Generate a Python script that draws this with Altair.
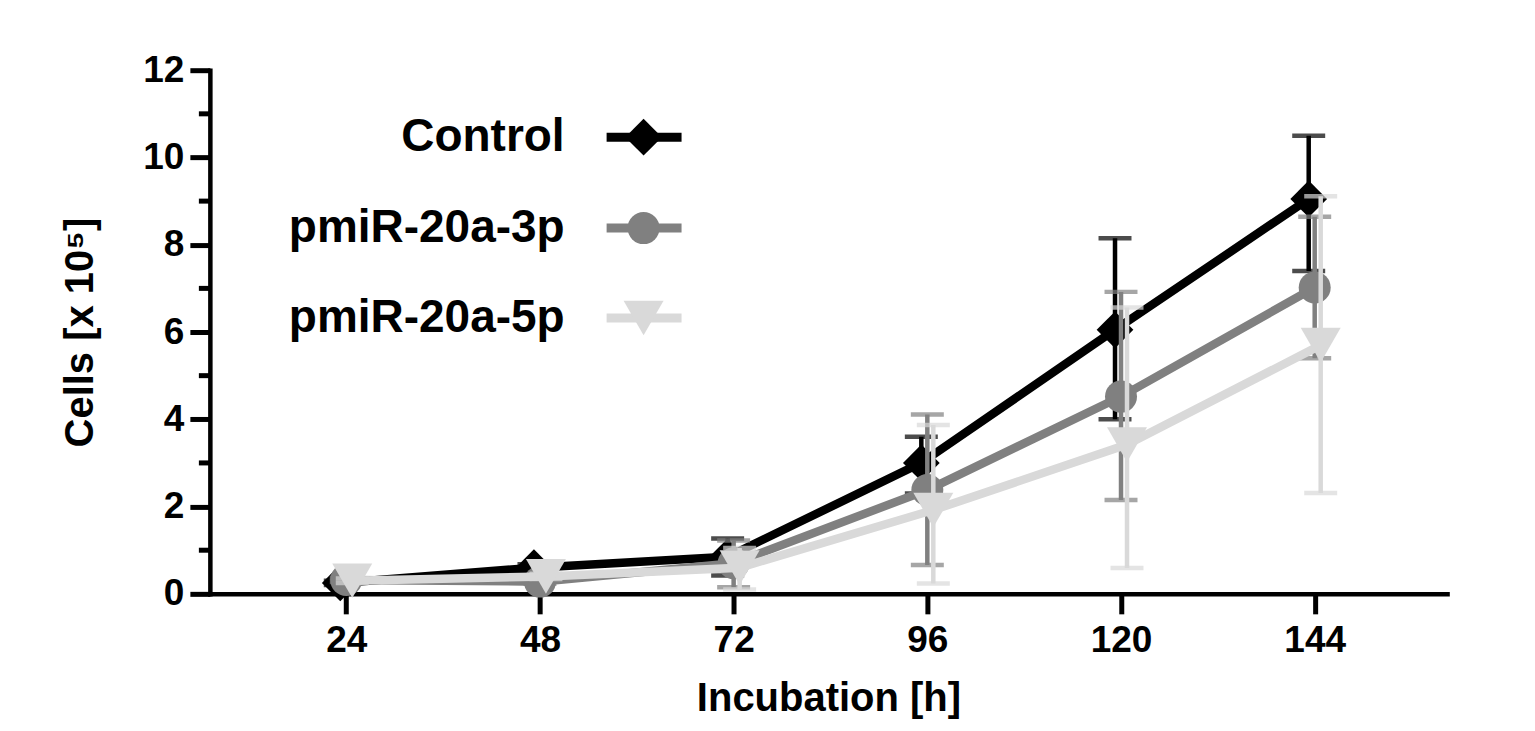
import altair as alt
import pandas as pd

hours = [24, 48, 72, 96, 120, 144]
series = ["Control", "pmiR-20a-3p", "pmiR-20a-5p"]

control_mean = [0.25, 0.60, 0.85, 3.00, 6.05, 9.05]
control_lo = [0.20, 0.52, 0.42, 2.30, 4.00, 7.40]
control_hi = [0.30, 0.68, 1.27, 3.60, 8.15, 10.50]

p3_mean = [0.32, 0.28, 0.70, 2.38, 4.52, 7.02]
p3_lo = [0.27, 0.23, 0.15, 0.66, 2.15, 5.40]
p3_hi = [0.37, 0.33, 1.22, 4.11, 6.92, 8.64]

p5_mean = [0.30, 0.40, 0.60, 1.92, 3.42, 5.70]
p5_lo = [0.25, 0.34, 0.10, 0.24, 0.59, 2.31]
p5_hi = [0.35, 0.46, 1.05, 3.87, 6.56, 9.11]

minor_ticks = [1, 3, 5, 7, 9, 11]
y_ticks = [0, 2, 4, 6, 8, 10, 12]

colors = ["#000000", "#808080", "#d9d9d9"]
shapes = ["diamond", "circle", "triangle-down"]
sizes = [1350, 1024, 1600]
offsets = [-6, 0, 6]

FONT = "Liberation Sans"
W, H = 1238, 524

means = [control_mean, p3_mean, p5_mean]
los = [control_lo, p3_lo, p5_lo]
his = [control_hi, p3_hi, p5_hi]

xscale = alt.Scale(domain=[7.1, 160.4], nice=False, zero=False)
yscale = alt.Scale(domain=[0, 12], nice=False)

layers = []
first = pd.DataFrame({"h": hours, "m": control_mean})
axis_layer = alt.Chart(first).mark_point(opacity=0).encode(
    x=alt.X("h:Q", scale=xscale,
            axis=alt.Axis(values=hours, title="Incubation [h]", grid=False,
                          labelPadding=9, titlePadding=20, format="d")),
    y=alt.Y("m:Q", scale=yscale,
            axis=alt.Axis(values=y_ticks, title="Cells [x 10⁵]", grid=False,
                          labelPadding=6, titlePadding=42, format="d")),
)
layers.append(axis_layer)

minor = alt.Chart(pd.DataFrame({"v": minor_ticks})).mark_rule(
    color="black", strokeWidth=5, clip=False
).encode(
    y=alt.Y("v:Q", scale=yscale),
    x=alt.value(-11), x2=alt.value(0),
)
layers.append(minor)

for i, name in enumerate(series):
    df = pd.DataFrame({"h": hours, "m": means[i], "lo": los[i], "hi": his[i]})
    base = alt.Chart(df)
    c = colors[i]
    bar = base.mark_rule(color=c, strokeWidth=4.5, xOffset=offsets[i]).encode(
        x=alt.X("h:Q", scale=xscale),
        y=alt.Y("lo:Q", scale=yscale), y2="hi:Q")
    cap_lo = base.mark_tick(color=c, orient="horizontal", size=33, thickness=4.5,
                            xOffset=offsets[i]).encode(
        x=alt.X("h:Q", scale=xscale), y=alt.Y("lo:Q", scale=yscale))
    cap_hi = base.mark_tick(color=c, orient="horizontal", size=33, thickness=4.5,
                            xOffset=offsets[i]).encode(
        x=alt.X("h:Q", scale=xscale), y=alt.Y("hi:Q", scale=yscale))
    line = base.mark_line(color=c, strokeWidth=8.5, xOffset=offsets[i]).encode(
        x=alt.X("h:Q", scale=xscale), y=alt.Y("m:Q", scale=yscale))
    pts = base.mark_point(color=c, fill=c, filled=True, opacity=1, shape=shapes[i],
                          size=sizes[i], xOffset=offsets[i], strokeWidth=0).encode(
        x=alt.X("h:Q", scale=xscale), y=alt.Y("m:Q", scale=yscale))
    layers += [bar, cap_lo, cap_hi, line, pts]

row_y = [67, 158, 248]
for i, name in enumerate(series):
    ldf = pd.DataFrame({"label": [name]})
    lb = alt.Chart(ldf)
    txt = lb.mark_text(align="right", baseline="middle", font=FONT, fontWeight="bold",
                       fontSize=46, color="black").encode(
        text="label:N", x=alt.value(355), y=alt.value(row_y[i]))
    lline = lb.mark_rule(color=colors[i], strokeWidth=9).encode(
        x=alt.value(397), x2=alt.value(472), y=alt.value(row_y[i]))
    lpt = lb.mark_point(color=colors[i], fill=colors[i], filled=True, opacity=1,
                        shape=shapes[i], size=sizes[i], strokeWidth=0).encode(
        x=alt.value(434), y=alt.value(row_y[i]))
    layers += [txt, lline, lpt]

chart = alt.layer(*layers).properties(
    width=W, height=H,
    autosize=alt.AutoSizeParams(type="none"),
    padding={"left": 202, "top": 62, "right": 80, "bottom": 130},
).configure_view(stroke=None).configure_axis(
    labelFont=FONT, titleFont=FONT, labelFontWeight="bold", titleFontWeight="bold",
    labelFontSize=37, titleFontSize=40, labelColor="black", titleColor="black",
    domainColor="black", domainWidth=4.5, tickColor="black", tickWidth=5, tickSize=20,
    domainCap="square",
)

chart.save("out.html", embed_options={"renderer": "svg", "actions": False})
